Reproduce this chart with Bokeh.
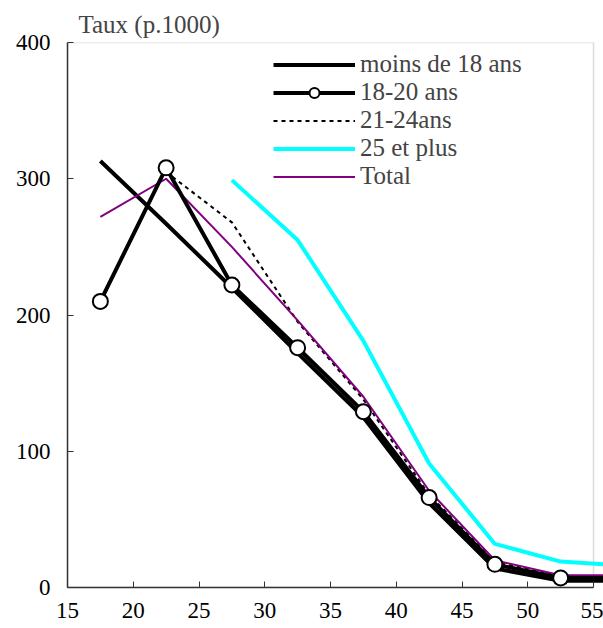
from bokeh.plotting import figure
from bokeh.models import (Range1d, FixedTicker, Legend, LegendItem, BoxAnnotation)
from bokeh.embed import file_html
from bokeh.resources import INLINE

# ---- data ----
ages = [17.5, 22.5, 27.5, 32.5, 37.5, 42.5, 47.5, 52.5, 57.5]
moins18 = [313, 267, 220, 172, 125, 62, 14, 5, 5]
ans18_20 = [210, 308, 222, 176, 129, 66, 17, 7, 7]
ages21_24 = [22.5, 27.5, 32.5, 37.5, 42.5, 47.5, 52.5, 57.5]
ans21_24 = [305, 268, 195, 138, 68, 19, 8, 8]
ages25 = [27.5, 32.5, 37.5, 42.5, 47.5, 52.5, 57.5]
ans25 = [299, 255, 181, 91, 32, 19, 16]
total = [272, 300, 250, 196, 140, 71, 20, 9, 9]
x_ticks = [15, 20, 25, 30, 35, 40, 45, 50, 55]
y_ticks = [0, 100, 200, 300, 400]
labels = ["moins de 18 ans", "18-20 ans", "21-24ans", "25 et plus", "Total"]

FONT = "'Liberation Serif'"

p = figure(width=603, height=628, output_backend="svg", toolbar_location=None,
           x_range=Range1d(15, 55.76), y_range=Range1d(0, 400),
           min_border_left=67, min_border_right=0, min_border_top=42,
           min_border_bottom=41, title="Taux (p.1000)")
p.outline_line_color = None
p.xgrid.visible = False
p.ygrid.visible = False

p.title.text_font = FONT
p.title.text_font_size = "25px"
p.title.text_font_style = "normal"
p.title.offset = 11
p.title.standoff = 9

for ax in p.axis:
    ax.major_label_text_font = FONT
    ax.major_label_text_font_size = "23px"
    ax.major_label_text_color = "black"
    ax.axis_line_color = "#333333"
    ax.axis_line_width = 1.5
    ax.major_tick_line_color = "#333333"
    ax.major_tick_in = 6
    ax.major_tick_out = 0
    ax.minor_tick_line_color = None
p.xaxis.ticker = FixedTicker(ticks=x_ticks)
p.yaxis.ticker = FixedTicker(ticks=y_ticks)
p.xaxis.bounds = (15, 55)
p.xaxis.major_label_standoff = 15
p.yaxis.major_label_standoff = 17

# frame (top/right borders)
p.add_layout(BoxAnnotation(left=15, right=55, bottom=0, top=400,
                           fill_color=None, line_color="#888888", line_width=1.5,
                           level="underlay"))

r25 = p.line(ages25, ans25, line_color="#00FFFF", line_width=4)
r21 = p.line(ages21_24, ans21_24, line_color="black", line_width=2, line_dash="4 4")
r18 = p.line(ages, moins18, line_color="black", line_width=4)
rt = p.line(ages, total, line_color="#800080", line_width=2)
r1820 = p.line(ages, ans18_20, line_color="black", line_width=4)
r1820m = p.scatter(ages, ans18_20, marker="circle", size=15, fill_color="white",
                   line_color="black", line_width=2)

legend = Legend(items=[
    LegendItem(label=labels[0], renderers=[r18]),
    LegendItem(label=labels[1], renderers=[r1820, r1820m]),
    LegendItem(label=labels[2], renderers=[r21]),
    LegendItem(label=labels[3], renderers=[r25]),
    LegendItem(label=labels[4], renderers=[rt]),
], location=(206, 397))
legend.border_line_color = None
legend.background_fill_alpha = 0
legend.padding = 0
legend.margin = 0
legend.spacing = 0
legend.glyph_width = 82
legend.glyph_height = 25
legend.label_standoff = 5
legend.label_text_font = FONT
legend.label_text_font_size = "25px"
legend.label_height = 25
p.add_layout(legend, "center")

open("out.html", "w").write(file_html(p, INLINE))
